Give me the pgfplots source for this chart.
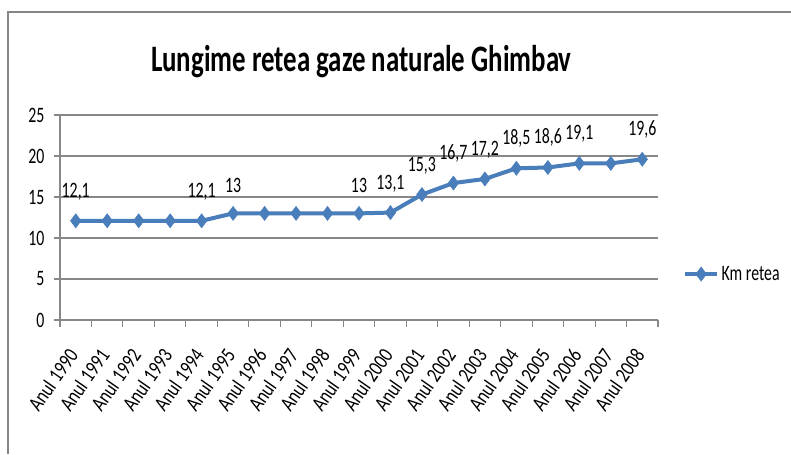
\documentclass[border=0pt]{standalone}
\usepackage{pgfplots}
\pgfplotsset{compat=1.18}
\usepackage{pgfplotstable}
\usepackage{fontspec}
\setmainfont{Carlito}[FakeStretch=0.72]
\newfontfamily\tickfont{Carlito}[FakeStretch=0.8]
\definecolor{serblue}{HTML}{4A7EBB}
\definecolor{gridgray}{HTML}{878787}
\definecolor{framegray}{HTML}{868686}
\pgfplotstableread{
x y
0 12.1
1 12.1
2 12.1
3 12.1
4 12.1
5 13
6 13
7 13
8 13
9 13
10 13.1
11 15.3
12 16.7
13 17.2
14 18.5
15 18.6
16 19.1
17 19.1
18 19.6
}\datatable
\pgfplotstableread{
x y lab
0 12.1 12,1
4 12.1 12,1
5 13 13
9 13 13
10 13.1 13,1
11 15.3 15,3
12 16.7 16,7
13 17.2 17,2
14 18.5 18,5
15 18.6 18,6
16 19.1 19,1
18 19.6 19,6
}\labeltable
\begin{document}
\begin{tikzpicture}
\path[use as bounding box] (0,0) rectangle (593.25pt,340.5pt);
\draw[framegray, line width=1.5pt] (5.625pt,0pt) -- (5.625pt,331.5pt) -- (593.25pt,331.5pt);
\node[font=\fontsize{28}{32}\selectfont\bfseries] at (271pt,294pt) {Lungime retea gaze naturale Ghimbav};
\begin{axis}[
  at={(45pt,100.5pt)}, anchor=south west,
  width=448.5pt, height=153.75pt, scale only axis,
  xmin=-0.5, xmax=18.5, ymin=0, ymax=25,
  axis lines*=left,
  axis line style={gridgray, line width=0.8pt},
  ymajorgrids, grid style={gridgray, line width=0.8pt},
  ytick={0,5,10,15,20,25},
  xtick={0,...,18},
  xticklabels={Anul 1990,Anul 1991,Anul 1992,Anul 1993,Anul 1994,Anul 1995,Anul 1996,Anul 1997,Anul 1998,Anul 1999,Anul 2000,Anul 2001,Anul 2002,Anul 2003,Anul 2004,Anul 2005,Anul 2006,Anul 2007,Anul 2008},
  minor xtick={-0.5,0.5,...,18.5},
  tick align=outside,
  major tick length=4.5pt,
  minor tick length=5.25pt,
  xtick style={draw=none},
  minor x tick style={draw=gridgray, line width=0.8pt},
  ytick style={draw=gridgray, line width=0.8pt},
  /pgf/number format/assume math mode=true,
  yticklabel style={font=\fontsize{16.5}{18}\selectfont, inner sep=2pt, xshift=-5pt},
  xticklabel style={font=\tickfont\fontsize{16}{18}\selectfont, rotate=55, anchor=east},
  xticklabel shift=16pt,
  legend style={at={(1.035,0.224)}, anchor=west, draw=none, fill=none, font=\fontsize{16.5}{18}\selectfont},
  legend image code/.code={\draw[mark repeat=2,mark phase=2] plot coordinates {(0cm,0cm) (0.42cm,0cm) (0.84cm,0cm)};},
  legend cell align=left,
  clip=false,
]
\addplot[serblue, line width=3pt, mark=diamond*, mark size=5.2pt, mark options={solid, fill=serblue, line width=0.5pt}] table[x=x,y=y] {\datatable};
\addlegendentry{Km retea}
\addplot[forget plot, draw=none, mark=none, point meta=explicit symbolic,
  nodes near coords, nodes near coords style={font=\fontsize{16.5}{18}\selectfont, anchor=south, yshift=12pt, text=black}]
  table[x=x,y=y,meta=lab] {\labeltable};
\end{axis}
\end{tikzpicture}
\end{document}
